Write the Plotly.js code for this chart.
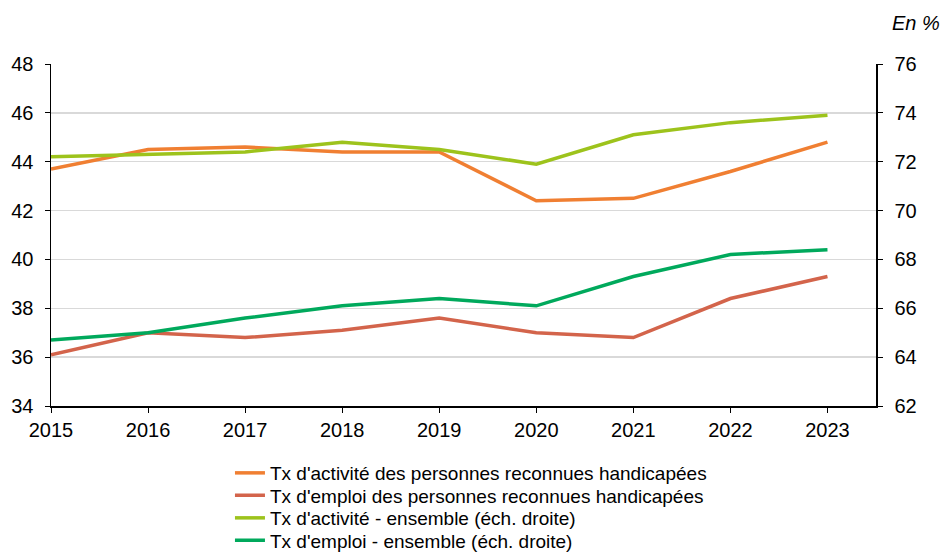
<!DOCTYPE html>
<html>
<head>
<meta charset="utf-8">
<script src="https://cdn.plot.ly/plotly-3.0.1.min.js"></script>
<style>
  html, body { margin: 0; padding: 0; background: #fff; }
  #chart { width: 944px; height: 552px; }
</style>
</head>
<body>
<div id="chart"></div>
<script>
// Années
const annees = [2015, 2016, 2017, 2018, 2019, 2020, 2021, 2022, 2023];

// Personnes reconnues handicapées (échelle gauche)
const activiteHandicap = [43.7, 44.5, 44.6, 44.4, 44.4, 42.4, 42.5, 43.6, 44.8];
const emploiHandicap = [36.1, 37.0, 36.8, 37.1, 37.6, 37.0, 36.8, 38.4, 39.3];

// Ensemble (échelle droite)
const activiteEnsemble = [72.2, 72.3, 72.4, 72.8, 72.5, 71.9, 73.1, 73.6, 73.9];
const emploiEnsemble = [64.7, 65.0, 65.6, 66.1, 66.4, 66.1, 67.3, 68.2, 68.4];

const police = 'Liberation Sans, Arial, sans-serif';

const data = [
    {
        x: annees, y: activiteHandicap,
        name: "Tx d'activité des personnes reconnues handicapées",
        type: 'scatter', mode: 'lines',
        line: { color: '#F07F32', width: 3.5 },
        yaxis: 'y', legend: 'legend'
    },
    {
        x: annees, y: emploiHandicap,
        name: "Tx d'emploi des personnes reconnues handicapées",
        type: 'scatter', mode: 'lines',
        line: { color: '#D3644B', width: 3.5 },
        yaxis: 'y', legend: 'legend2'
    },
    {
        x: annees, y: activiteEnsemble,
        name: "Tx d'activité - ensemble (éch. droite)",
        type: 'scatter', mode: 'lines',
        line: { color: '#9DC31C', width: 3.5 },
        yaxis: 'y2', legend: 'legend3'
    },
    {
        x: annees, y: emploiEnsemble,
        name: "Tx d'emploi - ensemble (éch. droite)",
        type: 'scatter', mode: 'lines',
        line: { color: '#00A95C', width: 3.5 },
        yaxis: 'y2', legend: 'legend4'
    }
];

const axeCommun = {
    zeroline: false,
    showline: true,
    linecolor: '#000',
    linewidth: 1.5,
    ticks: 'outside',
    ticklen: 5,
    tickcolor: '#000',
    fixedrange: true
};

// Une légende par ligne pour régler l'interligne
function legende(y) {
    return {
        xref: 'container',
        yref: 'container',
        x: 0.2436,
        y: y,
        xanchor: 'left',
        yanchor: 'middle',
        font: { family: police, size: 19 },
        bgcolor: 'rgba(0,0,0,0)'
    };
}

const layout = {
    width: 944,
    height: 552,
    paper_bgcolor: '#fff',
    plot_bgcolor: '#fff',
    font: { family: police, size: 20, color: '#000' },
    margin: { l: 51, r: 68, t: 64, b: 146, pad: 0, autoexpand: false },
    showlegend: true,
    xaxis: Object.assign({}, axeCommun, {
        range: [2015, 2023.5],
        tickvals: annees,
        ticktext: annees.map(String),
        showgrid: false
    }),
    yaxis: Object.assign({}, axeCommun, {
        range: [34, 48],
        dtick: 2,
        tick0: 34,
        showgrid: true,
        gridcolor: '#D9D9D9',
        gridwidth: 1.5,
        ticklabelstandoff: 7
    }),
    yaxis2: Object.assign({}, axeCommun, {
        overlaying: 'y',
        side: 'right',
        range: [62, 76],
        dtick: 2,
        tick0: 62,
        showgrid: false,
        ticklabelstandoff: 8
    }),
    legend: legende(0.1431),
    legend2: legende(0.1024),
    legend3: legende(0.0616),
    legend4: legende(0.0208),
    annotations: [
        {
            text: '<i>En %</i>',
            xref: 'paper', yref: 'paper',
            x: 1.08, y: 1.12,
            xanchor: 'right', yanchor: 'middle',
            showarrow: false,
            font: { family: police, size: 20 }
        }
    ]
};

Plotly.newPlot('chart', data, layout, { displayModeBar: false, staticPlot: true });
</script>
</body>
</html>
